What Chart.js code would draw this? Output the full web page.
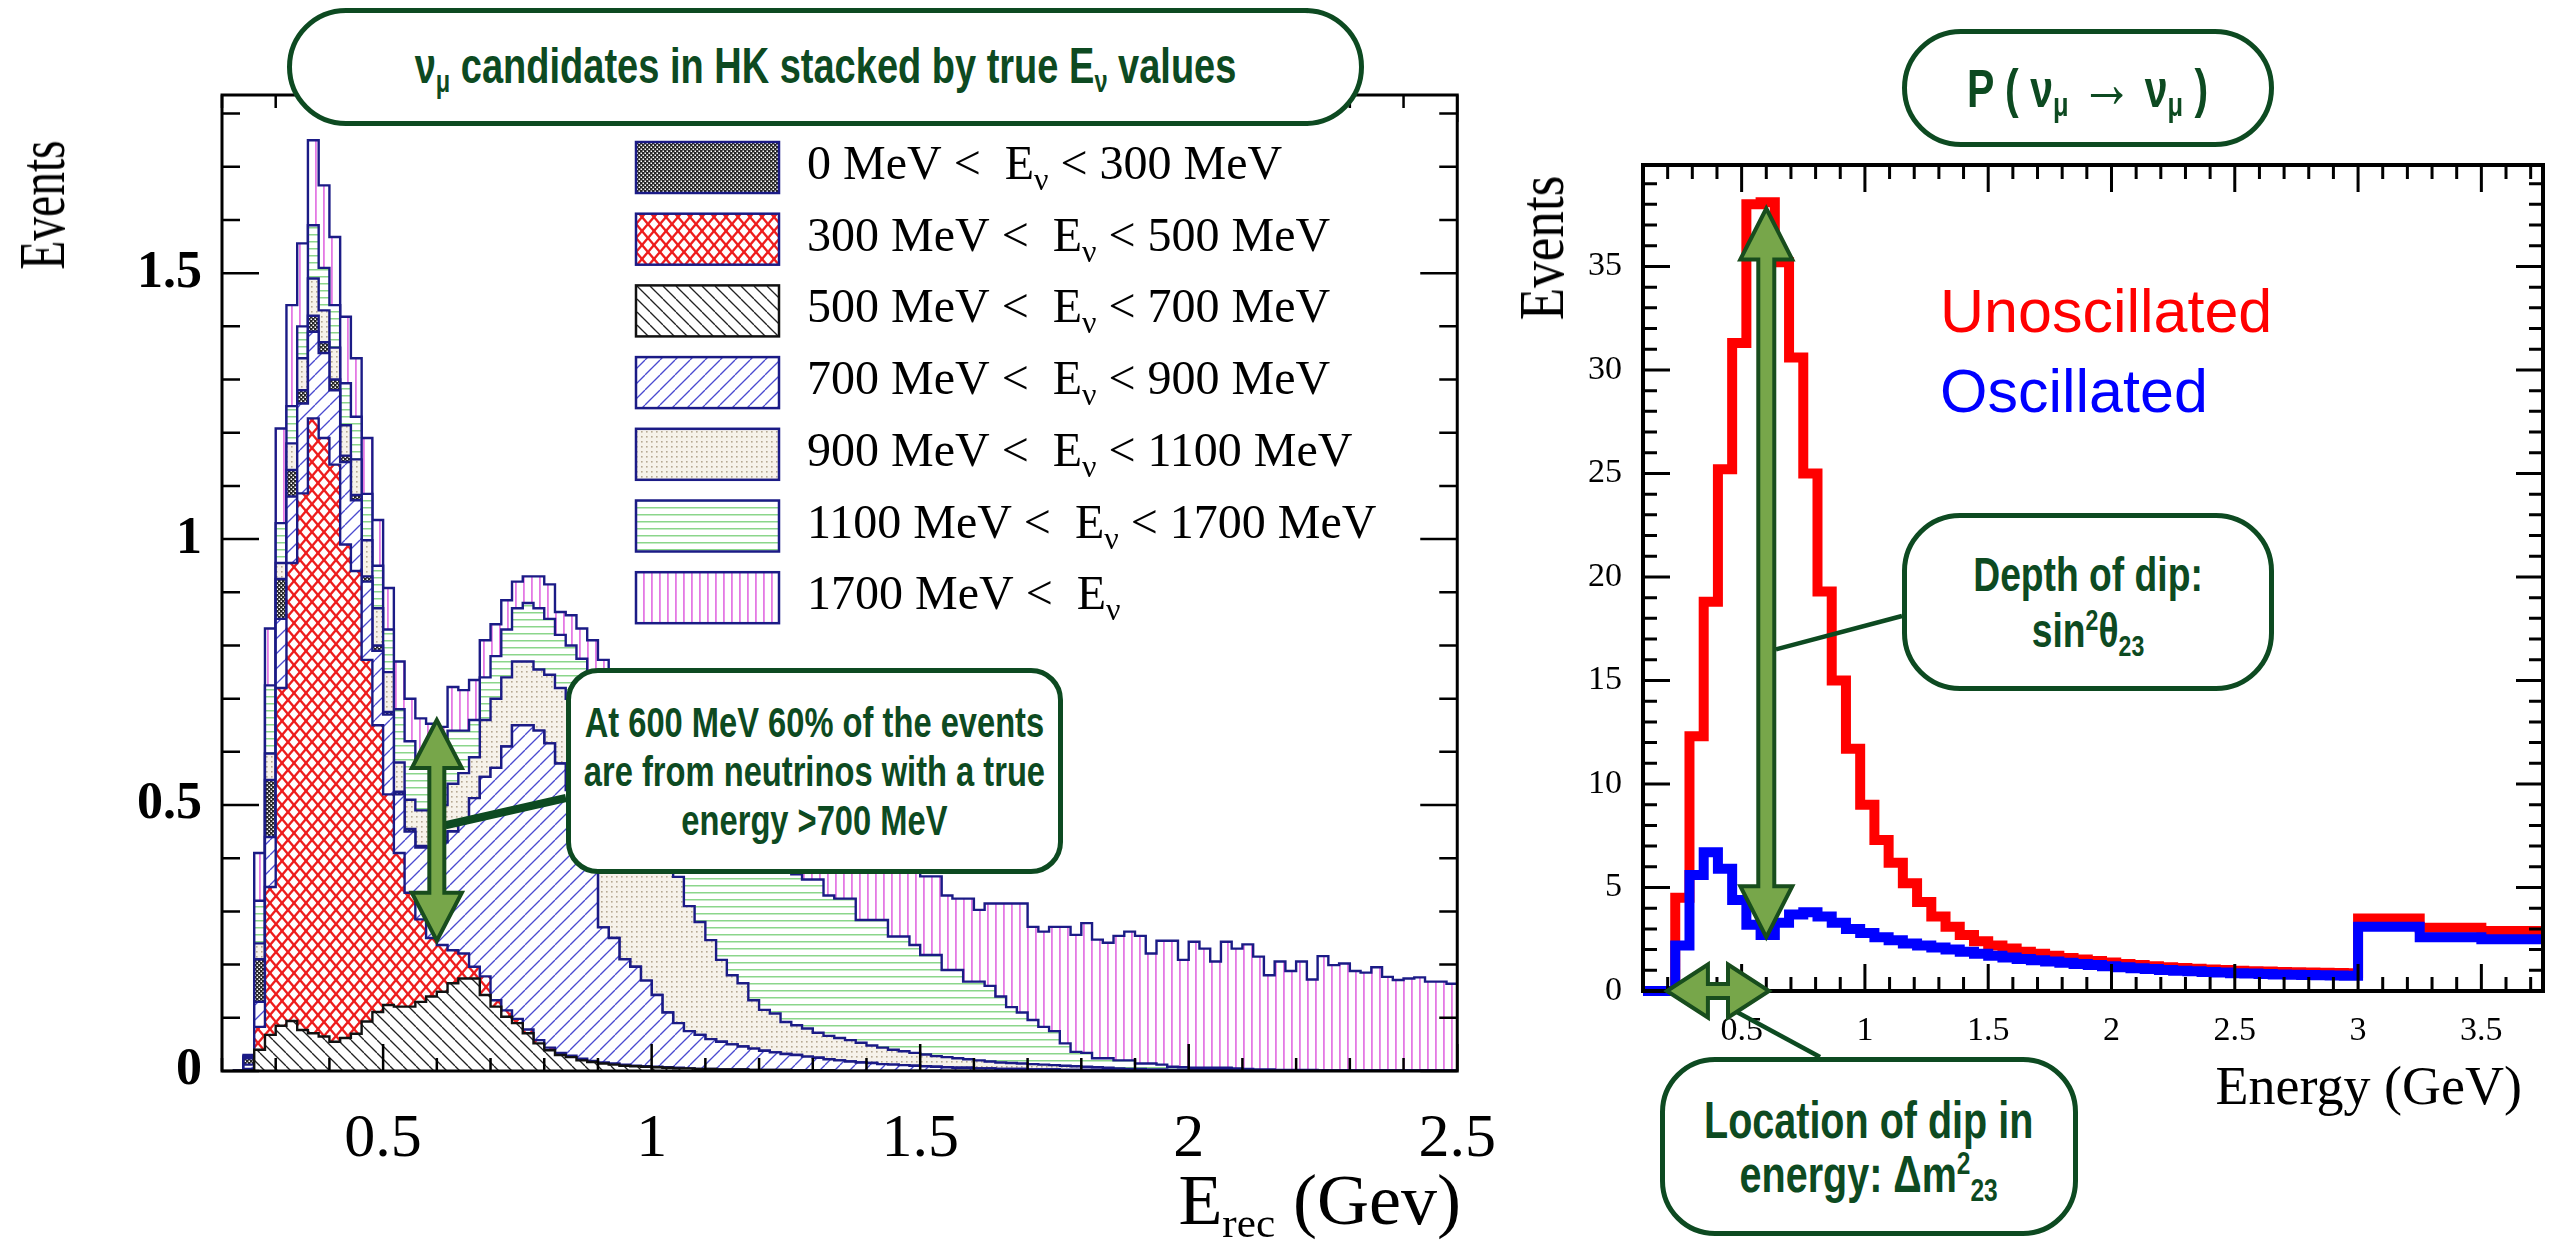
<!DOCTYPE html>
<html lang="en">
<head>
<meta charset="utf-8">
<title>νμ candidates in HK</title>
<script src="https://cdn.jsdelivr.net/npm/chart.js@4.4.1/dist/chart.umd.min.js"></script>
<style>
html, body { margin: 0; padding: 0; background: #fff; }
#page { position: relative; width: 2569px; height: 1242px; overflow: hidden; background: #fff; }
#stackChart { position: absolute; left: 0; top: 0; }
#oscChart { position: absolute; left: 1520px; top: 0; }
.note {
  position: absolute; box-sizing: border-box; z-index: 2;
  border: 5px solid #0d4a21; background: #fff; color: #0d4a21;
  font-family: "Liberation Sans", Arial, sans-serif; font-weight: bold;
  display: flex; align-items: center; justify-content: center; text-align: center;
  line-height: 1.15; white-space: nowrap;
}
.note .in { display: inline-block; transform: scaleX(0.76); transform-origin: 50% 50%; }
.note sub, .note sup { font-size: 0.62em; line-height: 0; }
.note sub { vertical-align: -0.28em; }
.note sup { vertical-align: 0.55em; }
.note .arrow { font-size: 1.3em; line-height: 0; }
.serif { position: absolute; z-index: 1; font-family: "Liberation Serif", "DejaVu Serif", serif; line-height: 1; white-space: nowrap; color: #000; }
.serif sub { font-size: 0.6em; vertical-align: -0.3em; line-height: 0; }
.vtitle { position: absolute; width: 0; height: 0; z-index: 1; }
.vtitle span { position: absolute; left: 0; top: 0; font-family: "Liberation Serif", "DejaVu Serif", serif; line-height: 1; white-space: nowrap; transform-origin: 50% 50%; color: #000; }
.osc-key { position: absolute; z-index: 1; font-family: "Liberation Sans", Arial, sans-serif; font-size: 61px; line-height: 1; white-space: nowrap; }
</style>
</head>
<body>
<div id="page">
  <canvas id="stackChart" width="1520" height="1242"></canvas>
  <canvas id="oscChart" width="1049" height="1242"></canvas>

  <div class="vtitle" style="left:42px;top:205px"><span style="font-size:66px;transform:translate(-50%,-50%) rotate(-90deg) scaleX(0.72)">Events</span></div>
  <div class="serif" style="right:1108px;top:1164px;font-size:72px">E<sub>rec</sub> (Gev)</div>

  <div class="vtitle" style="left:1542px;top:248px"><span style="font-size:64px;transform:translate(-50%,-50%) rotate(-90deg) scaleX(0.83)">Events</span></div>
  <div class="serif" style="right:47px;top:1059px;font-size:54px">Energy (GeV)</div>

  <div class="osc-key" style="left:1940px;top:281px;color:#ff0000">Unoscillated</div>
  <div class="osc-key" style="left:1940px;top:361px;color:#0000ff">Oscillated</div>

  <div class="note" style="left:287px;top:8px;width:1077px;height:118px;border-radius:59px;font-size:50px"><span class="in">ν<sub>μ</sub> candidates in HK stacked by true E<sub>ν</sub> values</span></div>
  <div class="note" style="left:1902px;top:29px;width:372px;height:118px;border-radius:59px;font-size:54px"><span class="in">P ( ν<sub>μ</sub> <span class="arrow">→</span> ν<sub>μ</sub> )</span></div>
  <div class="note" style="left:566px;top:668px;width:497px;height:206px;border-radius:32px;font-size:43px;line-height:49px"><span class="in">At 600 MeV 60% of the events<br>are from neutrinos with a true<br>energy &gt;700 MeV</span></div>
  <div class="note" style="left:1902px;top:513px;width:372px;height:178px;border-radius:58px;font-size:49px;line-height:56px"><span class="in">Depth of dip:<br>sin<sup>2</sup>θ<sub>23</sub></span></div>
  <div class="note" style="left:1660px;top:1057px;width:418px;height:179px;border-radius:55px;font-size:52px;line-height:54px"><span class="in">Location of dip in<br>energy: Δm<sup>2</sup><sub>23</sub></span></div>
</div>

<script>
// ---- left panel: reconstructed energy, stacked by true neutrino energy ----
// bins are 0.02 GeV wide, first bin starts at 0.22 GeV, axis ends at 2.5 GeV
const recoBinStart = 0.22;
const recoBinWidth = 0.02;
const recoMax = 2.5;

const trueE0to300 = [0,
  0.012, 0.08, 0.107, 0.075, 0.05, 0.025, 0.03, 0.02, 0.02, 0.012,
  0.01, 0.01, 0.01, 0.005, 0.005, 0.005, 0.003, 0.002, 0.002, 0.001,
  0.001, 0, 0, 0, 0, 0, 0, 0, 0, 0,
  0, 0, 0, 0, 0, 0, 0, 0, 0, 0,
  0, 0, 0, 0, 0, 0, 0, 0, 0, 0,
  0, 0, 0, 0, 0, 0, 0, 0, 0, 0,
  0, 0, 0, 0, 0, 0, 0, 0, 0, 0,
  0, 0, 0, 0, 0, 0, 0, 0, 0, 0,
  0, 0, 0, 0, 0, 0, 0, 0, 0, 0,
  0, 0, 0, 0, 0, 0, 0, 0, 0, 0,
  0, 0, 0, 0, 0, 0, 0, 0, 0, 0,
  0, 0, 0];

const trueE300to500 = [0,
  0.004, 0.043, 0.278, 0.635, 0.861, 1.009, 1.156, 1.125, 1.085, 0.928,
  0.87, 0.68, 0.539, 0.396, 0.289, 0.214, 0.155, 0.11, 0.088, 0.062,
  0.047, 0.022, 0.035, 0.012, 0.012, 0.008, 0.007, 0.006, 0.005, 0.004,
  0.003, 0.003, 0.002, 0.002, 0.002, 0.002, 0.001, 0.001, 0.001, 0.001,
  0.001, 0, 0, 0, 0, 0, 0, 0, 0, 0,
  0, 0, 0, 0, 0, 0, 0, 0, 0, 0,
  0, 0, 0, 0, 0, 0, 0, 0, 0, 0,
  0, 0, 0, 0, 0, 0, 0, 0, 0, 0,
  0, 0, 0, 0, 0, 0, 0, 0, 0, 0,
  0, 0, 0, 0, 0, 0, 0, 0, 0, 0,
  0, 0, 0, 0, 0, 0, 0, 0, 0, 0,
  0, 0, 0];

const trueE500to700 = [0,
  0, 0.04, 0.068, 0.085, 0.094, 0.077, 0.071, 0.065, 0.055, 0.062,
  0.07, 0.093, 0.111, 0.124, 0.121, 0.121, 0.13, 0.14, 0.149, 0.165,
  0.174, 0.174, 0.143, 0.121, 0.102, 0.09, 0.071, 0.052, 0.039, 0.03,
  0.026, 0.02, 0.017, 0.014, 0.012, 0.01, 0.009, 0.008, 0.007, 0.006,
  0.005, 0.005, 0.004, 0.004, 0.003, 0.003, 0.003, 0.002, 0.002, 0.002,
  0.002, 0.001, 0.001, 0.001, 0.001, 0, 0, 0, 0, 0,
  0, 0, 0, 0, 0, 0, 0, 0, 0, 0,
  0, 0, 0, 0, 0, 0, 0, 0, 0, 0,
  0, 0, 0, 0, 0, 0, 0, 0, 0, 0,
  0, 0, 0, 0, 0, 0, 0, 0, 0, 0,
  0, 0, 0, 0, 0, 0, 0, 0, 0, 0,
  0, 0, 0];

const trueE700to900 = [0,
  0.008, 0.047, 0.094, 0.13, 0.125, 0.169, 0.163, 0.16, 0.14, 0.155,
  0.133, 0.147, 0.14, 0.15, 0.11, 0.115, 0.135, 0.17, 0.193, 0.223,
  0.249, 0.317, 0.375, 0.437, 0.496, 0.552, 0.572, 0.582, 0.572, 0.544,
  0.499, 0.443, 0.384, 0.254, 0.236, 0.198, 0.186, 0.161, 0.135, 0.103,
  0.084, 0.07, 0.064, 0.056, 0.052, 0.047, 0.043, 0.04, 0.036, 0.033,
  0.03, 0.029, 0.026, 0.024, 0.021, 0.02, 0.018, 0.016, 0.015, 0.013,
  0.012, 0.011, 0.01, 0.009, 0.008, 0.007, 0.006, 0.006, 0.005, 0.005,
  0.004, 0.004, 0.004, 0.003, 0.003, 0.003, 0.002, 0.002, 0.002, 0.002,
  0.002, 0.001, 0.001, 0.001, 0.001, 0.001, 0.001, 0.001, 0.001, 0.001,
  0.001, 0.001, 0.001, 0, 0, 0, 0, 0, 0, 0,
  0, 0, 0, 0, 0, 0, 0, 0, 0, 0,
  0, 0, 0];

const trueE900to1100 = [0,
  0.002, 0.03, 0.05, 0.03, 0.05, 0.06, 0.07, 0.06, 0.06, 0.057,
  0.067, 0.068, 0.07, 0.075, 0.055, 0.055, 0.067, 0.068, 0.068, 0.089,
  0.089, 0.077, 0.107, 0.13, 0.13, 0.12, 0.12, 0.115, 0.129, 0.142,
  0.172, 0.204, 0.237, 0.34, 0.33, 0.34, 0.324, 0.31, 0.307, 0.3,
  0.275, 0.235, 0.212, 0.186, 0.154, 0.13, 0.119, 0.091, 0.077, 0.073,
  0.06, 0.056, 0.053, 0.047, 0.044, 0.042, 0.04, 0.037, 0.033, 0.031,
  0.028, 0.026, 0.024, 0.022, 0.02, 0.019, 0.018, 0.016, 0.015, 0.013,
  0.012, 0.011, 0.01, 0.01, 0.009, 0.008, 0.008, 0.007, 0.006, 0.005,
  0.004, 0.004, 0.003, 0.003, 0.002, 0.002, 0.001, 0.001, 0.001, 0.001,
  0.001, 0.001, 0.001, 0.001, 0.001, 0.001, 0, 0, 0, 0,
  0, 0, 0, 0, 0, 0, 0, 0, 0, 0,
  0, 0, 0];

const trueE1100to1700 = [0,
  0.002, 0.08, 0.128, 0.075, 0.07, 0.06, 0.1, 0.08, 0.08, 0.079,
  0.08, 0.087, 0.08, 0.08, 0.1, 0.11, 0.09, 0.09, 0.08, 0.1,
  0.08, 0.07, 0.08, 0.08, 0.09, 0.1, 0.11, 0.115, 0.105, 0.1,
  0.1, 0.105, 0.11, 0.115, 0.13, 0.14, 0.15, 0.17, 0.18, 0.2,
  0.225, 0.26, 0.27, 0.284, 0.301, 0.31, 0.305, 0.317, 0.315, 0.302,
  0.298, 0.284, 0.28, 0.288, 0.264, 0.262, 0.266, 0.231, 0.236, 0.24,
  0.213, 0.216, 0.203, 0.187, 0.19, 0.164, 0.166, 0.146, 0.148, 0.142,
  0.124, 0.105, 0.096, 0.083, 0.071, 0.064, 0.042, 0.027, 0.026, 0.017,
  0.018, 0.015, 0.016, 0.01, 0.011, 0.009, 0.006, 0.005, 0.004, 0.004,
  0.004, 0.004, 0.003, 0.003, 0.002, 0.002, 0.002, 0.002, 0.002, 0.002,
  0.001, 0.001, 0.001, 0.001, 0.001, 0.001, 0.001, 0.001, 0.001, 0.001,
  0.001, 0.001, 0.001];

const trueE1700up = [0,
  0.002, 0.09, 0.107, 0.178, 0.19, 0.156, 0.16, 0.155, 0.128, 0.125,
  0.11, 0.105, 0.086, 0.078, 0.09, 0.08, 0.083, 0.073, 0.067, 0.082,
  0.076, 0.075, 0.07, 0.06, 0.055, 0.05, 0.05, 0.06, 0.065, 0.043,
  0.057, 0.057, 0.06, 0.048, 0.045, 0.055, 0.055, 0.05, 0.045, 0.04,
  0.035, 0.03, 0.03, 0.03, 0.03, 0.03, 0.03, 0.04, 0.04, 0.05,
  0.06, 0.07, 0.07, 0.06, 0.08, 0.086, 0.076, 0.116, 0.106, 0.106,
  0.132, 0.127, 0.138, 0.148, 0.148, 0.14, 0.134, 0.156, 0.135, 0.155,
  0.175, 0.195, 0.205, 0.175, 0.179, 0.196, 0.219, 0.22, 0.244, 0.223,
  0.217, 0.234, 0.242, 0.24, 0.207, 0.233, 0.237, 0.202, 0.237, 0.224,
  0.2, 0.237, 0.225, 0.234, 0.212, 0.177, 0.204, 0.186, 0.204, 0.17,
  0.215, 0.198, 0.201, 0.187, 0.184, 0.194, 0.176, 0.17, 0.173, 0.175,
  0.167, 0.167, 0.163];

// legend rows, top to bottom
const trueEnergyRanges = [
  { key: 'e0',    pre: '0 MeV <  E',    post: ' < 300 MeV' },
  { key: 'e300',  pre: '300 MeV <  E',  post: ' < 500 MeV' },
  { key: 'e500',  pre: '500 MeV <  E',  post: ' < 700 MeV' },
  { key: 'e700',  pre: '700 MeV <  E',  post: ' < 900 MeV' },
  { key: 'e900',  pre: '900 MeV <  E',  post: ' < 1100 MeV' },
  { key: 'e1100', pre: '1100 MeV <  E', post: ' < 1700 MeV' },
  { key: 'e1700', pre: '1700 MeV <  E', post: '' }
];

// ---- right panel: numu disappearance spectrum ----
const energyEdges = [0.1, ...Array.from({ length: 48 }, (_, i) => (i + 4) * 3 / 52), 3.0, 3.25, 3.5];
const energyMax = 3.75;

const unoscillated = [0,
  4.5, 12.3, 18.8, 25.2, 31.3, 38.0, 38.1, 35.2, 30.6, 25.0,
  19.3, 15.0, 11.7, 9.0, 7.3, 6.2, 5.2, 4.3, 3.6, 3.1,
  2.7, 2.4, 2.2, 2.05, 1.9, 1.8, 1.7, 1.6, 1.52, 1.45,
  1.38, 1.31, 1.25, 1.2, 1.15, 1.11, 1.07, 1.04, 1.01, 0.98,
  0.96, 0.94, 0.92, 0.9, 0.89, 0.88, 0.87, 0.86,
  3.5, 3.05, 2.9];

const oscillated = [0,
  2.2, 5.6, 6.7, 5.9, 4.4, 3.2, 2.7, 3.3, 3.7, 3.8,
  3.6, 3.3, 3.0, 2.8, 2.6, 2.45, 2.3, 2.2, 2.1, 2.0,
  1.9, 1.8, 1.7, 1.62, 1.55, 1.48, 1.42, 1.36, 1.3, 1.25,
  1.2, 1.15, 1.1, 1.06, 1.02, 0.98, 0.95, 0.92, 0.89, 0.86,
  0.84, 0.82, 0.8, 0.78, 0.77, 0.76, 0.75, 0.74,
  3.1, 2.6, 2.5];

// ---- fill patterns (ROOT style hatches) ----
function makeTile(w, h, paint) {
  const c = document.createElement('canvas');
  c.width = w;
  c.height = h;
  const g = c.getContext('2d');
  g.fillStyle = '#fff';
  g.fillRect(0, 0, w, h);
  paint(g, w, h);
  return c;
}

function diagonal(g, w, h, rising) {
  for (const o of [-w, 0, w]) {
    g.beginPath();
    if (rising) { g.moveTo(o, h); g.lineTo(o + w, 0); }
    else { g.moveTo(o, 0); g.lineTo(o + w, h); }
    g.stroke();
  }
}

const tiles = {
  e0: makeTile(4, 4, g => {
    g.fillStyle = '#262626';
    g.fillRect(0, 0, 4, 4);
    g.fillStyle = '#fff';
    g.fillRect(0.5, 0.5, 1.5, 1.5);
    g.fillRect(2.5, 2.5, 1.5, 1.5);
  }),
  e300: makeTile(12, 14, (g, w, h) => {
    g.strokeStyle = '#ee1d1d';
    g.lineWidth = 2.4;
    diagonal(g, w, h, true);
    diagonal(g, w, h, false);
  }),
  e500: makeTile(13, 13, (g, w, h) => {
    g.strokeStyle = '#222';
    g.lineWidth = 1.3;
    diagonal(g, w, h, false);
  }),
  e700: makeTile(15, 15, (g, w, h) => {
    g.strokeStyle = '#4a4ad0';
    g.lineWidth = 1.3;
    diagonal(g, w, h, true);
  }),
  e900: makeTile(5, 5, g => {
    g.fillStyle = '#f6f2ea';
    g.fillRect(0, 0, 5, 5);
    g.fillStyle = '#b5a892';
    g.fillRect(1, 1, 1.6, 1.6);
  }),
  e1100: makeTile(6, 7, g => {
    g.fillStyle = '#8bd68b';
    g.fillRect(0, 3, 6, 1.5);
  }),
  e1700: makeTile(8, 6, g => {
    g.fillStyle = '#e47ae4';
    g.fillRect(3, 0, 1.8, 6);
  })
};

const stackCanvas = document.getElementById('stackChart');
const stackCtx = stackCanvas.getContext('2d');
const patterns = {};
for (const k in tiles) patterns[k] = stackCtx.createPattern(tiles[k], 'repeat');

const navy = '#1b1b86';
const lineColors = { e0: navy, e300: navy, e500: '#111', e700: navy, e900: navy, e1100: navy, e1700: navy };

// stacking order, bottom to top
const stackLayers = [
  { key: 'e500', values: trueE500to700 },
  { key: 'e300', values: trueE300to500 },
  { key: 'e700', values: trueE700to900 },
  { key: 'e0', values: trueE0to300 },
  { key: 'e900', values: trueE900to1100 },
  { key: 'e1100', values: trueE1100to1700 },
  { key: 'e1700', values: trueE1700up }
];

const recoEdges = trueE0to300.map((_, i) => +(recoBinStart + recoBinWidth * i).toFixed(2));

function stepPoints(edges, values, end) {
  const pts = edges.map((x, i) => ({ x, y: values[i] }));
  pts.push({ x: end, y: values[values.length - 1] });
  return pts;
}

// "0.5", "1", "1.5" rather than "1.0"
const plainNumber = v => String(Math.round(v * 100) / 100);

// ---- plugins ----
function eachTick(min, max, step, major, fn) {
  const first = Math.ceil(min / step - 1e-6);
  for (let i = first; i * step <= max + 1e-9; i++) {
    const v = i * step;
    const r = v / major;
    fn(v, Math.abs(r - Math.round(r)) < 1e-6);
  }
}

// frame with inward ticks on all four sides
const rootFrame = {
  id: 'rootFrame',
  afterDatasetsDraw(chart, _args, o) {
    const { ctx, chartArea: a } = chart;
    const xs = chart.scales.x, ys = chart.scales.y;
    ctx.save();
    ctx.strokeStyle = '#000';
    ctx.lineWidth = o.tickWidth;
    ctx.beginPath();
    eachTick(xs.min, xs.max, o.x.minor, o.x.major, (v, major) => {
      const px = xs.getPixelForValue(v);
      const len = major ? o.x.majorLen : o.x.minorLen;
      ctx.moveTo(px, a.bottom); ctx.lineTo(px, a.bottom - len);
      ctx.moveTo(px, a.top); ctx.lineTo(px, a.top + len);
    });
    eachTick(ys.min, ys.max, o.y.minor, o.y.major, (v, major) => {
      const py = ys.getPixelForValue(v);
      const len = major ? o.y.majorLen : o.y.minorLen;
      ctx.moveTo(a.left, py); ctx.lineTo(a.left + len, py);
      ctx.moveTo(a.right, py); ctx.lineTo(a.right - len, py);
    });
    ctx.stroke();
    ctx.lineWidth = o.frameWidth;
    ctx.strokeRect(a.left, a.top, a.right - a.left, a.bottom - a.top);
    ctx.restore();
  }
};

// legend with hatched swatches and a subscript nu
const energyLegend = {
  id: 'energyLegend',
  afterDatasetsDraw(chart, _args, o) {
    const ctx = chart.ctx;
    const main = `${o.fontSize}px "Liberation Serif", "DejaVu Serif", serif`;
    const small = `${o.subSize}px "Liberation Serif", "DejaVu Serif", serif`;
    ctx.save();
    ctx.textBaseline = 'alphabetic';
    trueEnergyRanges.forEach((row, i) => {
      const top = o.top + i * o.rowStep;
      ctx.fillStyle = patterns[row.key];
      ctx.fillRect(o.left, top, o.boxW, o.boxH);
      ctx.lineWidth = 2.5;
      ctx.strokeStyle = lineColors[row.key];
      ctx.strokeRect(o.left, top, o.boxW, o.boxH);

      const base = top + o.baseline;
      let x = o.textLeft;
      ctx.fillStyle = '#000';
      ctx.font = main;
      ctx.fillText(row.pre, x, base);
      x += ctx.measureText(row.pre).width;
      ctx.font = small;
      ctx.fillText('ν', x, base + o.subDrop);
      x += ctx.measureText('ν').width;
      ctx.font = main;
      ctx.fillText(row.post, x, base);
    });
    ctx.restore();
  }
};

// double arrows and leader lines
function doubleArrow(ctx, p1, p2, shaft, head, headLen) {
  const dx = p2[0] - p1[0], dy = p2[1] - p1[1];
  const len = Math.hypot(dx, dy);
  const ux = dx / len, uy = dy / len;
  const nx = -uy, ny = ux;
  const at = (p, along, side) => [p[0] + ux * along + nx * side, p[1] + uy * along + ny * side];
  const pts = [
    p1,
    at(p1, headLen, head / 2), at(p1, headLen, shaft / 2),
    at(p2, -headLen, shaft / 2), at(p2, -headLen, head / 2),
    p2,
    at(p2, -headLen, -head / 2), at(p2, -headLen, -shaft / 2),
    at(p1, headLen, -shaft / 2), at(p1, headLen, -head / 2)
  ];
  ctx.beginPath();
  pts.forEach((p, i) => (i ? ctx.lineTo(p[0], p[1]) : ctx.moveTo(p[0], p[1])));
  ctx.closePath();
  ctx.fill();
  ctx.stroke();
}

const callouts = {
  id: 'callouts',
  afterDraw(chart, _args, o) {
    const { ctx } = chart;
    const xs = chart.scales.x, ys = chart.scales.y;
    const px = v => [xs.getPixelForValue(v[0]), ys.getPixelForValue(v[1])];
    ctx.save();
    ctx.strokeStyle = '#0d4a21';
    ctx.lineCap = 'butt';
    for (const c of o.leaders) {
      const a = px(c.from);
      ctx.lineWidth = c.width;
      ctx.beginPath();
      ctx.moveTo(a[0], a[1]);
      ctx.lineTo(c.to[0] - o.pageLeft, c.to[1]);
      ctx.stroke();
    }
    ctx.fillStyle = '#77a64a';
    ctx.strokeStyle = '#184d1d';
    ctx.lineWidth = 4;
    ctx.lineJoin = 'miter';
    for (const a of o.arrows) doubleArrow(ctx, px(a.from), px(a.to), a.shaft, a.head, a.headLen);
    ctx.restore();
  }
};

const serif = '"Liberation Serif", "DejaVu Serif", serif';

// ---- left chart ----
new Chart(stackCanvas, {
  type: 'line',
  data: {
    datasets: stackLayers.map((layer, i) => ({
      label: layer.key,
      data: stepPoints(recoEdges, layer.values, recoMax),
      stepped: true,
      fill: i === 0 ? 'origin' : '-1',
      backgroundColor: patterns[layer.key],
      borderColor: lineColors[layer.key],
      borderWidth: 2.4,
      borderJoinStyle: 'miter',
      pointRadius: 0
    }))
  },
  options: {
    responsive: false,
    animation: false,
    devicePixelRatio: 1,
    layout: { padding: { left: 0, right: 59, top: 95, bottom: 0 } },
    plugins: {
      legend: { display: false },
      tooltip: { enabled: false },
      rootFrame: {
        frameWidth: 3, tickWidth: 2.5,
        x: { major: 0.5, minor: 0.1, majorLen: 27, minorLen: 13 },
        y: { major: 0.5, minor: 0.1, majorLen: 37, minorLen: 18 }
      },
      energyLegend: {
        left: 636, top: 142, rowStep: 71.7, boxW: 143, boxH: 51,
        textLeft: 807, baseline: 37, fontSize: 48, subSize: 32, subDrop: 11
      },
      callouts: {
        pageLeft: 0,
        leaders: [{ from: [0.616, 0.462], to: [566, 798], width: 8 }],
        arrows: [{ from: [0.6, 0.66], to: [0.6, 0.245], shaft: 15, head: 50, headLen: 48 }]
      }
    },
    scales: {
      x: {
        type: 'linear', min: 0.2, max: recoMax,
        grid: { display: false }, border: { display: false },
        ticks: { stepSize: 0.5, includeBounds: false, autoSkip: false, maxRotation: 0, padding: 24, color: '#000',
                 callback: plainNumber, font: { family: serif, size: 62 } },
        afterFit: s => { s.height = 171; }
      },
      y: {
        stacked: true, min: 0, max: 1.835,
        grid: { display: false }, border: { display: false },
        ticks: { stepSize: 0.5, includeBounds: false, autoSkip: false, padding: 12, color: '#000',
                 callback: plainNumber, font: { family: serif, size: 52, weight: 'bold' } },
        afterFit: s => { s.width = 222; }
      }
    }
  },
  plugins: [rootFrame, energyLegend, callouts]
});

// ---- right chart ----
new Chart(document.getElementById('oscChart'), {
  type: 'line',
  data: {
    datasets: [
      { label: 'Oscillated', data: stepPoints(energyEdges, oscillated, energyMax), borderColor: '#0000ff' },
      { label: 'Unoscillated', data: stepPoints(energyEdges, unoscillated, energyMax), borderColor: '#ff0000' }
    ].map(d => Object.assign(d, {
      stepped: true, fill: false, borderWidth: 10, borderJoinStyle: 'miter', pointRadius: 0, clip: 14
    }))
  },
  options: {
    responsive: false,
    animation: false,
    devicePixelRatio: 1,
    layout: { padding: { left: 0, right: 26, top: 165, bottom: 0 } },
    plugins: {
      legend: { display: false },
      tooltip: { enabled: false },
      rootFrame: {
        frameWidth: 4, tickWidth: 3,
        x: { major: 0.5, minor: 0.1, majorLen: 27, minorLen: 14 },
        y: { major: 5, minor: 1, majorLen: 27, minorLen: 14 }
      },
      callouts: {
        pageLeft: 1520,
        leaders: [
          { from: [0.639, 16.5], to: [1902, 616], width: 4.5 },
          { from: [0.473, -0.97], to: [1820, 1057], width: 4.5 }
        ],
        arrows: [
          { from: [0.6, 37.8], to: [0.6, 2.6], shaft: 16, head: 52, headLen: 51 },
          { from: [0.197, 0], to: [0.611, 0], shaft: 14, head: 53, headLen: 41 }
        ]
      }
    },
    scales: {
      x: {
        type: 'linear', min: 0.1, max: energyMax,
        grid: { display: false }, border: { display: false },
        ticks: { stepSize: 0.5, includeBounds: false, autoSkip: false, maxRotation: 0, padding: 12, color: '#000',
                 callback: plainNumber, font: { family: serif, size: 34 } },
        afterFit: s => { s.height = 251; }
      },
      y: {
        min: 0, max: 39.9,
        grid: { display: false }, border: { display: false },
        ticks: { stepSize: 5, includeBounds: false, autoSkip: false, padding: 13, color: '#000',
                 callback: plainNumber, font: { family: serif, size: 34 } },
        afterFit: s => { s.width = 123; }
      }
    }
  },
  plugins: [rootFrame, callouts]
});
</script>
</body>
</html>
